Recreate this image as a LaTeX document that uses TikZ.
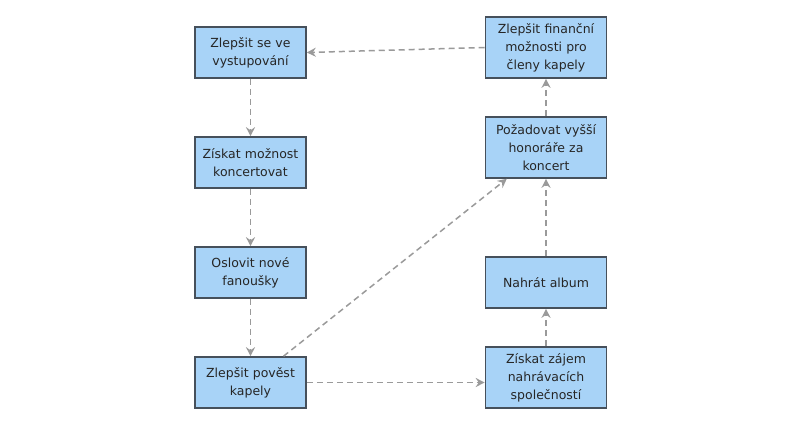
\documentclass[tikz,border=0pt]{standalone}
\usepackage{fontspec}
\setmainfont{DejaVu Sans}
\usetikzlibrary{arrows.meta}
\definecolor{boxfill}{HTML}{A8D3F7}
\definecolor{boxline}{HTML}{46505B}
\definecolor{arr}{HTML}{9A9A9A}
\tikzset{
  box/.style={draw=boxline, line width=1.6pt, fill=boxfill, align=center,
    font=\fontsize{12.5}{18}\selectfont, text=black!85, inner sep=2pt},
  lbox/.style={box, minimum width=111pt, minimum height=51pt, text width=107pt},
  rbox/.style={box, minimum width=121pt, minimum height=61pt, text width=117pt},
  rboxs/.style={box, minimum width=121pt, minimum height=51pt, text width=117pt},
  link/.style={draw=arr, line width=1.5pt, dash pattern=on 6pt off 4pt,
    -{Stealth[length=9pt,width=9pt,inset=3pt]}}
}
\begin{document}
\begin{tikzpicture}[x=1pt,y=1pt]
\useasboundingbox (0,0) rectangle (800,-428);
\node[lbox] (a) at (250.5,-52.5) {Zlepšit se ve\\vystupování};
\node[lbox] (b) at (250.5,-162.5) {Získat možnost\\koncertovat};
\node[lbox] (c) at (250.5,-272.5) {Oslovit nové\\fanoušky};
\node[lbox] (d) at (250.5,-382.5) {Zlepšit pověst\\kapely};
\node[rbox] (e) at (546,-47.5) {Zlepšit finanční\\možnosti pro\\členy kapely};
\node[rbox] (f) at (546,-147.5) {Požadovat vyšší\\honoráře za\\koncert};
\node[rboxs] (g) at (546,-282.5) {Nahrát album};
\node[rbox] (h) at (546,-377.5) {Získat zájem\\nahrávacích\\společností};
\draw[link] (e.west) -- (a.east);
\draw[link] (a) -- (b);
\draw[link] (b) -- (c);
\draw[link] (c) -- (d);
\draw[link] (d.east) -- (h.west |- d.east);
\draw[link] (d) -- (f);
\draw[link] (h) -- (g);
\draw[link] (g) -- (f);
\draw[link] (f) -- (e);
\end{tikzpicture}
\end{document}
